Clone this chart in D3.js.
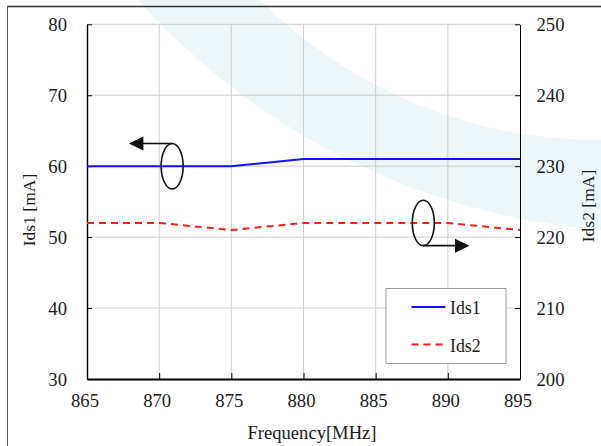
<!DOCTYPE html>
<html>
<head>
<meta charset="utf-8">
<script src="https://cdn.jsdelivr.net/npm/d3@7"></script>
<style>
  html, body { margin: 0; padding: 0; background: #fff; }
  svg { display: block; }
  text { font-family: "Liberation Serif", "Times New Roman", serif; fill: #1a1a1a; }
</style>
</head>
<body>
<svg id="chart" width="601" height="446"></svg>
<script>
// ---- data ----
const frequencies = [865, 870, 875, 880, 885, 890, 895];
const ids1 = [60, 60, 60, 61, 61, 61, 61];
const ids2 = [222, 222, 221, 222, 222, 222, 221];
const xTicks = [865, 870, 875, 880, 885, 890, 895];
const yLeftTicks = [30, 40, 50, 60, 70, 80];
const yRightTicks = [200, 210, 220, 230, 240, 250];
const seriesNames = ["Ids1", "Ids2"];
// annotation ellipses (data coordinates) with arrow direction
const annotations = [
  { x: 870.9, y: 60, axis: "left", arrowTo: 867.9 },
  { x: 888.3, y: 222, axis: "right", arrowTo: 891.5 }
];

// ---- layout ----
const W = 601, H = 446;
const plot = { left: 87, right: 520, top: 24.3, bottom: 379 };
const serif = '"Liberation Serif", "Times New Roman", Times, serif';
const svg = d3.select("#chart");

const x = d3.scaleLinear().domain([865, 895]).range([plot.left, plot.right]);
const yL = d3.scaleLinear().domain([30, 80]).range([plot.bottom, plot.top]);
const yR = d3.scaleLinear().domain([200, 250]).range([plot.bottom, plot.top]);

// ---- watermark ----
svg.append("path")
  .attr("d", "M138,0 L260,0 A479,479 0 0,0 601,140 L601,230 A697,697 0 0,1 138,0 Z")
  .attr("fill", "#edf6f8");

// ---- outer frame ----
svg.append("line").attr("x1", 7).attr("x2", W).attr("y1", 6.5).attr("y2", 6.5)
  .attr("stroke", "#333").attr("stroke-width", 1.5);
svg.append("line").attr("x1", 7.5).attr("x2", 7.5).attr("y1", 6).attr("y2", H)
  .attr("stroke", "#555").attr("stroke-width", 1);

// ---- gridlines ----
const grid = svg.append("g").attr("stroke", "#cfcfcf").attr("stroke-width", 1);
grid.selectAll("line.v").data(xTicks.slice(1, -1)).join("line")
  .attr("x1", d => x(d)).attr("x2", d => x(d))
  .attr("y1", plot.top).attr("y2", plot.bottom);
grid.selectAll("line.h").data(yLeftTicks.slice(1)).join("line")
  .attr("x1", plot.left).attr("x2", plot.right)
  .attr("y1", d => yL(d)).attr("y2", d => yL(d));

// ---- axes ----
const fs = 18.7;
const axL = svg.append("g").attr("transform", `translate(${plot.left},0)`)
  .call(d3.axisLeft(yL).tickValues(yLeftTicks).tickSizeInner(-5).tickSizeOuter(0).tickPadding(20));
const axR = svg.append("g").attr("transform", `translate(${plot.right},0)`)
  .call(d3.axisRight(yR).tickValues(yRightTicks).tickSizeInner(-5).tickSizeOuter(0).tickPadding(16.5));
const axB = svg.append("g").attr("transform", `translate(0,${plot.bottom})`)
  .call(d3.axisBottom(x).tickValues(xTicks).tickSizeInner(-6).tickSizeOuter(0).tickPadding(15.2));

[axL, axR, axB].forEach(g => {
  g.attr("font-family", serif).attr("font-size", fs);
  g.selectAll("text").attr("font-family", serif).attr("font-size", fs)
    .style("font-family", serif).style("font-size", fs + "px").attr("fill", "#1a1a1a");
  g.selectAll(".tick line").attr("stroke", "#000");
  g.select(".domain").attr("stroke", "#000");
});
axL.select(".domain").attr("stroke-width", 1.4);
axR.select(".domain").attr("stroke-width", 1);
axB.select(".domain").attr("stroke-width", 2.2);
axB.selectAll("text").attr("dx", -2.5);
axL.selectAll("text").attr("dy", "0.34em");
axR.selectAll("text").attr("dy", "0.34em");

// ---- axis titles ----
svg.append("text").attr("x", 312).attr("y", 439).attr("text-anchor", "middle")
  .style("font-family", serif).style("font-size", "18.6px").text("Frequency[MHz]");
svg.append("text").attr("transform", "translate(35,210) rotate(-90)").attr("text-anchor", "middle")
  .style("font-family", serif).style("font-size", "17.5px").text("Ids1 [mA]");
svg.append("text").attr("transform", "translate(594,206) rotate(-90)").attr("text-anchor", "middle")
  .style("font-family", serif).style("font-size", "17.5px").text("Ids2 [mA]");

// ---- series ----
const line1 = d3.line().x((d, i) => x(frequencies[i])).y(d => yL(d));
const line2 = d3.line().x((d, i) => x(frequencies[i])).y(d => yR(d));
svg.append("path").attr("d", line1(ids1)).attr("fill", "none")
  .attr("stroke", "#1010ff").attr("stroke-width", 2);
svg.append("path").attr("d", line2(ids2)).attr("fill", "none")
  .attr("stroke", "#ff1a1a").attr("stroke-width", 2).attr("stroke-dasharray", "7,5");

// ---- annotations ----
const rx = 11, ry = 22.7;
annotations.forEach(a => {
  const cx = x(a.x), cy = (a.axis === "left" ? yL : yR)(a.y);
  const tipX = x(a.arrowTo);
  const dir = tipX < cx ? -1 : 1;
  const ay = dir < 0 ? cy - ry : cy + ry;
  const headLen = 14.5, headHalf = 7;
  svg.append("ellipse").attr("cx", cx).attr("cy", cy).attr("rx", rx).attr("ry", ry)
    .attr("fill", "none").attr("stroke", "#111").attr("stroke-width", 1.6);
  svg.append("line").attr("x1", cx).attr("x2", tipX - dir * headLen + dir * 1).attr("y1", ay).attr("y2", ay)
    .attr("stroke", "#111").attr("stroke-width", 1.6);
  svg.append("path")
    .attr("d", `M${tipX},${ay} L${tipX - dir * headLen},${ay - headHalf} L${tipX - dir * headLen},${ay + headHalf} Z`)
    .attr("fill", "#111");
});

// ---- legend ----
const leg = svg.append("g").attr("transform", "translate(386,288.5)");
leg.append("rect").attr("width", 120).attr("height", 75)
  .attr("fill", "#fff").attr("stroke", "#9a9a9a").attr("stroke-width", 1);
const legStyles = [
  { color: "#1010ff", dash: null },
  { color: "#ff1a1a", dash: "7,5" }
];
seriesNames.forEach((name, i) => {
  const yy = 18.5 + i * 37.5;
  leg.append("line").attr("x1", 25.5).attr("x2", 59.5).attr("y1", yy).attr("y2", yy)
    .attr("stroke", legStyles[i].color).attr("stroke-width", 2)
    .attr("stroke-dasharray", legStyles[i].dash);
  leg.append("text").attr("x", 64).attr("y", yy + 7)
    .style("font-family", serif).style("font-size", "17.8px").text(name);
});
</script>
</body>
</html>
